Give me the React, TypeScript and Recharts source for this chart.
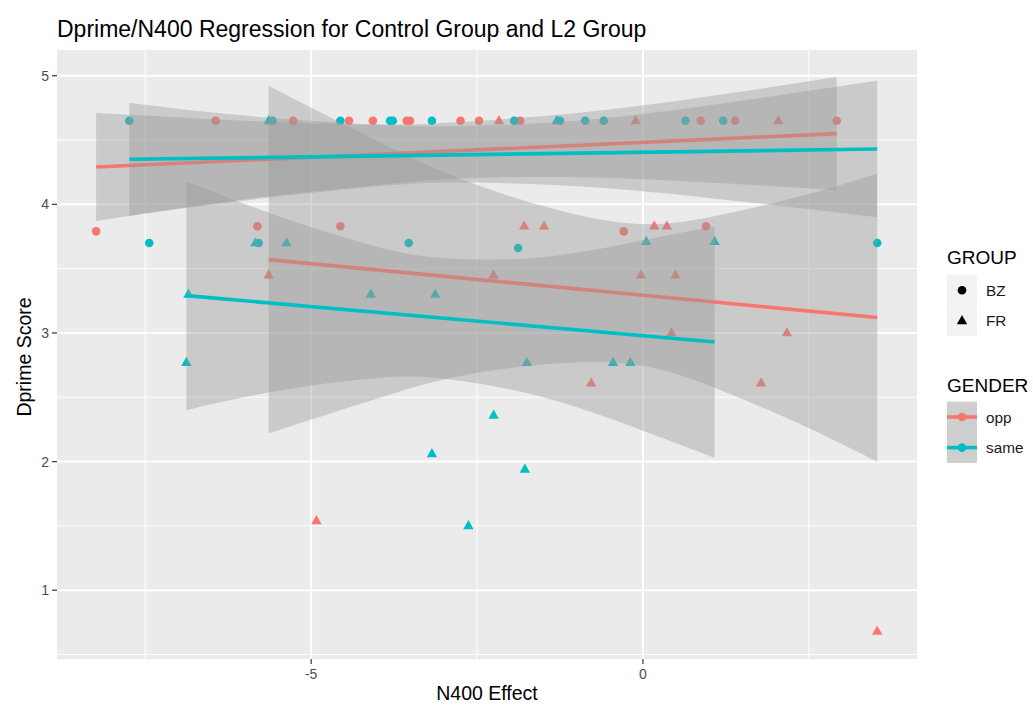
import React from 'react';
import { ComposedChart, Scatter, Line, Area, XAxis, YAxis, CartesianGrid } from 'recharts';

const RED = '#F8766D';
const TEAL = '#00BFC4';
const FONT = '"Liberation Sans", Arial, Helvetica, sans-serif';

// ---- points: GENDER opp / GROUP BZ (circles)
const oppBzX = [-8.24, -6.44, -5.81, -5.27, -4.56, -4.43, -4.07, -3.56, -3.51, -2.75, -2.47, -1.85, -0.29, 0.87, 0.95, 1.39, 2.92];
const oppBzY = [3.79, 4.65, 3.83, 4.65, 3.83, 4.65, 4.65, 4.65, 4.65, 4.65, 4.65, 4.65, 3.79, 4.65, 3.83, 4.65, 4.65];
// ---- points: same / BZ (circles)
const sameBzX = [-7.74, -7.44, -5.79, -5.58, -4.56, -3.81, -3.77, -3.53, -3.18, -1.94, -1.88, -1.25, -0.87, -0.59, 0.64, 1.21, 3.53];
const sameBzY = [4.65, 3.70, 3.70, 4.65, 4.65, 4.65, 4.65, 3.70, 4.65, 4.65, 3.66, 4.65, 4.65, 4.65, 4.65, 4.65, 3.70];
// ---- points: opp / FR (triangles)
const oppFrX = [-5.64, -4.92, -2.25, -2.17, -1.79, -1.49, -0.78, -0.11, -0.03, 0.17, 0.36, 0.43, 0.49, 1.78, 2.04, 2.17, 3.53];
const oppFrY = [3.45, 1.54, 3.45, 4.65, 3.83, 3.83, 2.61, 4.65, 3.45, 3.83, 3.83, 3.0, 3.45, 2.61, 4.65, 3.0, 0.68];
// ---- points: same / FR (triangles)
const sameFrX = [-6.85, -6.88, -5.84, -5.64, -5.37, -4.10, -3.18, -3.13, -2.63, -2.25, -1.78, -1.75, -1.30, -0.45, -0.19, 0.05, 1.08];
const sameFrY = [3.30, 2.77, 3.70, 4.65, 3.70, 3.30, 2.06, 3.30, 1.50, 2.36, 1.94, 2.77, 4.65, 2.77, 2.77, 3.71, 3.71];

// ---- regression lines
const oppBzFitX = [-8.24, 2.92];
const oppBzFitY = [4.29, 4.55];
const sameBzFitX = [-7.74, 3.53];
const sameBzFitY = [4.35, 4.43];
const oppFrFitX = [-5.64, 3.53];
const oppFrFitY = [3.57, 3.12];
const sameFrFitX = [-6.88, 1.08];
const sameFrFitY = [3.29, 2.93];

// ---- confidence ribbons
const oppBzBandX = [-8.24, -6, -4, -2.77, -1, 1, 2.92];
const oppBzBandLo = [3.87, 4.04, 4.15, 4.2, 4.21, 4.17, 4.11];
const oppBzBandHi = [4.71, 4.65, 4.62, 4.64, 4.71, 4.84, 4.99];
const sameBzBandX = [-7.74, -6, -4, -2.74, -1, 1, 3.53];
const sameBzBandLo = [3.91, 4.03, 4.14, 4.17, 4.14, 4.05, 3.9];
const sameBzBandHi = [4.79, 4.69, 4.62, 4.61, 4.65, 4.77, 4.96];
const oppFrBandX = [-5.64, -4, -2.5, -0.51, 1, 2.5, 3.53];
const oppFrBandLo = [2.22, 2.49, 2.69, 2.77, 2.59, 2.26, 2.0];
const oppFrBandHi = [4.92, 4.49, 4.15, 3.87, 3.9, 4.08, 4.24];
const sameFrBandX = [-6.88, -5.5, -4, -2.95, -1.5, 0, 1.08];
const sameFrBandLo = [2.4, 2.55, 2.65, 2.64, 2.5, 2.24, 2.03];
const sameFrBandHi = [4.18, 3.91, 3.67, 3.58, 3.59, 3.72, 3.83];

// ---- axes
const xTicks = [-5, 0];
const yTicks = [1, 2, 3, 4, 5];
const xMinor = [-7.5, -2.5, 2.5];
const yMinor = [0.5, 1.5, 2.5, 3.5, 4.5];
const xDomain: [number, number] = [-8.83, 4.13];
const yDomain: [number, number] = [0.465, 5.2];

const pts = (xs: number[], ys: number[]) => xs.map((x, i) => ({ x, y: ys[i] }));
const band = (xs: number[], lo: number[], hi: number[]) => xs.map((x, i) => ({ x, band: [lo[i], hi[i]] }));

const circleShape = (color: string) => (p: any) => (
  <circle cx={p.cx} cy={p.cy} r={4.3} fill={color} />
);
const triShape = (color: string) => (p: any) => (
  <polygon
    points={`${p.cx},${p.cy - 5.8} ${p.cx - 5.2},${p.cy + 3.4} ${p.cx + 5.2},${p.cy + 3.4}`}
    fill={color}
  />
);

const groups = [
  { key: 'oppBz', color: RED, band: band(oppBzBandX, oppBzBandLo, oppBzBandHi), fit: pts(oppBzFitX, oppBzFitY) },
  { key: 'oppFr', color: RED, band: band(oppFrBandX, oppFrBandLo, oppFrBandHi), fit: pts(oppFrFitX, oppFrFitY) },
  { key: 'sameBz', color: TEAL, band: band(sameBzBandX, sameBzBandLo, sameBzBandHi), fit: pts(sameBzFitX, sameBzFitY) },
  { key: 'sameFr', color: TEAL, band: band(sameFrBandX, sameFrBandLo, sameFrBandHi), fit: pts(sameFrFitX, sameFrFitY) },
];

const tickStyle = { fontSize: 14, fill: '#4D4D4D', fontFamily: FONT };

export default function App() {
  const layers: React.ReactNode[] = [];
  groups.forEach((g, i) => {
    layers.push(
      <Area
        key={g.key + 'a'}
        data={g.band}
        dataKey="band"
        type="natural"
        stroke="none"
        fill="#999999"
        fillOpacity={0.4}
        isAnimationActive={false}
        activeDot={false}
        {...({ zIndex: 101 + i * 2 } as any)}
      />
    );
    layers.push(
      <Line
        key={g.key + 'l'}
        data={g.fit}
        dataKey="y"
        type="linear"
        stroke={g.color}
        strokeWidth={3.6}
        dot={false}
        activeDot={false}
        isAnimationActive={false}
        {...({ zIndex: 102 + i * 2 } as any)}
      />
    );
  });

  return (
    <div style={{ position: 'absolute', left: 0, top: 0, width: 1033, height: 720, background: '#fff', fontFamily: FONT }}>
      <ComposedChart width={1033} height={720} margin={{ top: 50, right: 116, bottom: 0, left: 0 }}>
        <CartesianGrid
          fill="#EBEBEB"
          stroke="#FFFFFF"
          strokeWidth={1}
          verticalValues={xMinor}
          horizontalValues={yMinor}
        />
        <CartesianGrid
          stroke="#FFFFFF"
          strokeWidth={2}
          verticalValues={xTicks}
          horizontalValues={yTicks}
        />
        <XAxis
          type="number"
          dataKey="x"
          domain={xDomain}
          allowDataOverflow
          ticks={xTicks}
          height={61}
          axisLine={false}
          tickLine={{ stroke: '#333333', strokeWidth: 1.2 }}
          tickSize={5}
          tickMargin={5}
          tick={tickStyle}
        />
        <YAxis
          type="number"
          dataKey="y"
          domain={yDomain}
          allowDataOverflow
          ticks={yTicks}
          width={57}
          axisLine={false}
          tickLine={{ stroke: '#333333', strokeWidth: 1.2 }}
          tickSize={5}
          tickMargin={3}
          tick={tickStyle}
        />
        <Scatter data={pts(oppBzX, oppBzY)} shape={circleShape(RED)} isAnimationActive={false} {...({ zIndex: 50 } as any)} />
        <Scatter data={pts(oppFrX, oppFrY)} shape={triShape(RED)} isAnimationActive={false} {...({ zIndex: 50 } as any)} />
        <Scatter data={pts(sameBzX, sameBzY)} shape={circleShape(TEAL)} isAnimationActive={false} {...({ zIndex: 50 } as any)} />
        <Scatter data={pts(sameFrX, sameFrY)} shape={triShape(TEAL)} isAnimationActive={false} {...({ zIndex: 50 } as any)} />
        {layers}
      </ComposedChart>

      <svg width={1033} height={720} style={{ position: 'absolute', left: 0, top: 0, pointerEvents: 'none' }}>
        <text x={57} y={37} fontSize={23} fill="#000" fontFamily={FONT}>
          Dprime/N400 Regression for Control Group and L2 Group
        </text>
        <text x={487} y={700} fontSize={19.5} fill="#000" fontFamily={FONT} textAnchor="middle">
          N400 Effect
        </text>
        <text transform="translate(31,357) rotate(-90)" fontSize={19.5} fill="#000" fontFamily={FONT} textAnchor="middle">
          Dprime Score
        </text>

        {/* GROUP legend */}
        <text x={947} y={263.5} fontSize={19} fill="#000" fontFamily={FONT}>GROUP</text>
        <rect x={947} y={275} width={30} height={30.5} fill="#F2F2F2" />
        <rect x={947} y={305.5} width={30} height={30.5} fill="#F2F2F2" />
        <circle cx={962} cy={290.3} r={4.3} fill="#000" />
        <polygon points="962,315 956.8,324.2 967.2,324.2" fill="#000" />
        <text x={986} y={295.8} fontSize={15.3} fill="#1A1A1A" fontFamily={FONT}>BZ</text>
        <text x={986} y={326.3} fontSize={15.3} fill="#1A1A1A" fontFamily={FONT}>FR</text>

        {/* GENDER legend */}
        <text x={947} y={392} fontSize={19} fill="#000" fontFamily={FONT}>GENDER</text>
        <rect x={947} y={401.7} width={30} height={30.6} fill="#F2F2F2" />
        <rect x={947} y={432.3} width={30} height={30.6} fill="#F2F2F2" />
        <rect x={947} y={401.7} width={30} height={30.6} fill="#999999" fillOpacity={0.4} />
        <rect x={947} y={432.3} width={30} height={30.6} fill="#999999" fillOpacity={0.4} />
        <line x1={947} x2={977} y1={417} y2={417} stroke={RED} strokeWidth={3.6} />
        <circle cx={962} cy={417} r={4.3} fill={RED} />
        <line x1={947} x2={977} y1={447.6} y2={447.6} stroke={TEAL} strokeWidth={3.6} />
        <circle cx={962} cy={447.6} r={4.3} fill={TEAL} />
        <text x={986} y={422.5} fontSize={15.3} fill="#1A1A1A" fontFamily={FONT}>opp</text>
        <text x={986} y={453.1} fontSize={15.3} fill="#1A1A1A" fontFamily={FONT}>same</text>
      </svg>
    </div>
  );
}
